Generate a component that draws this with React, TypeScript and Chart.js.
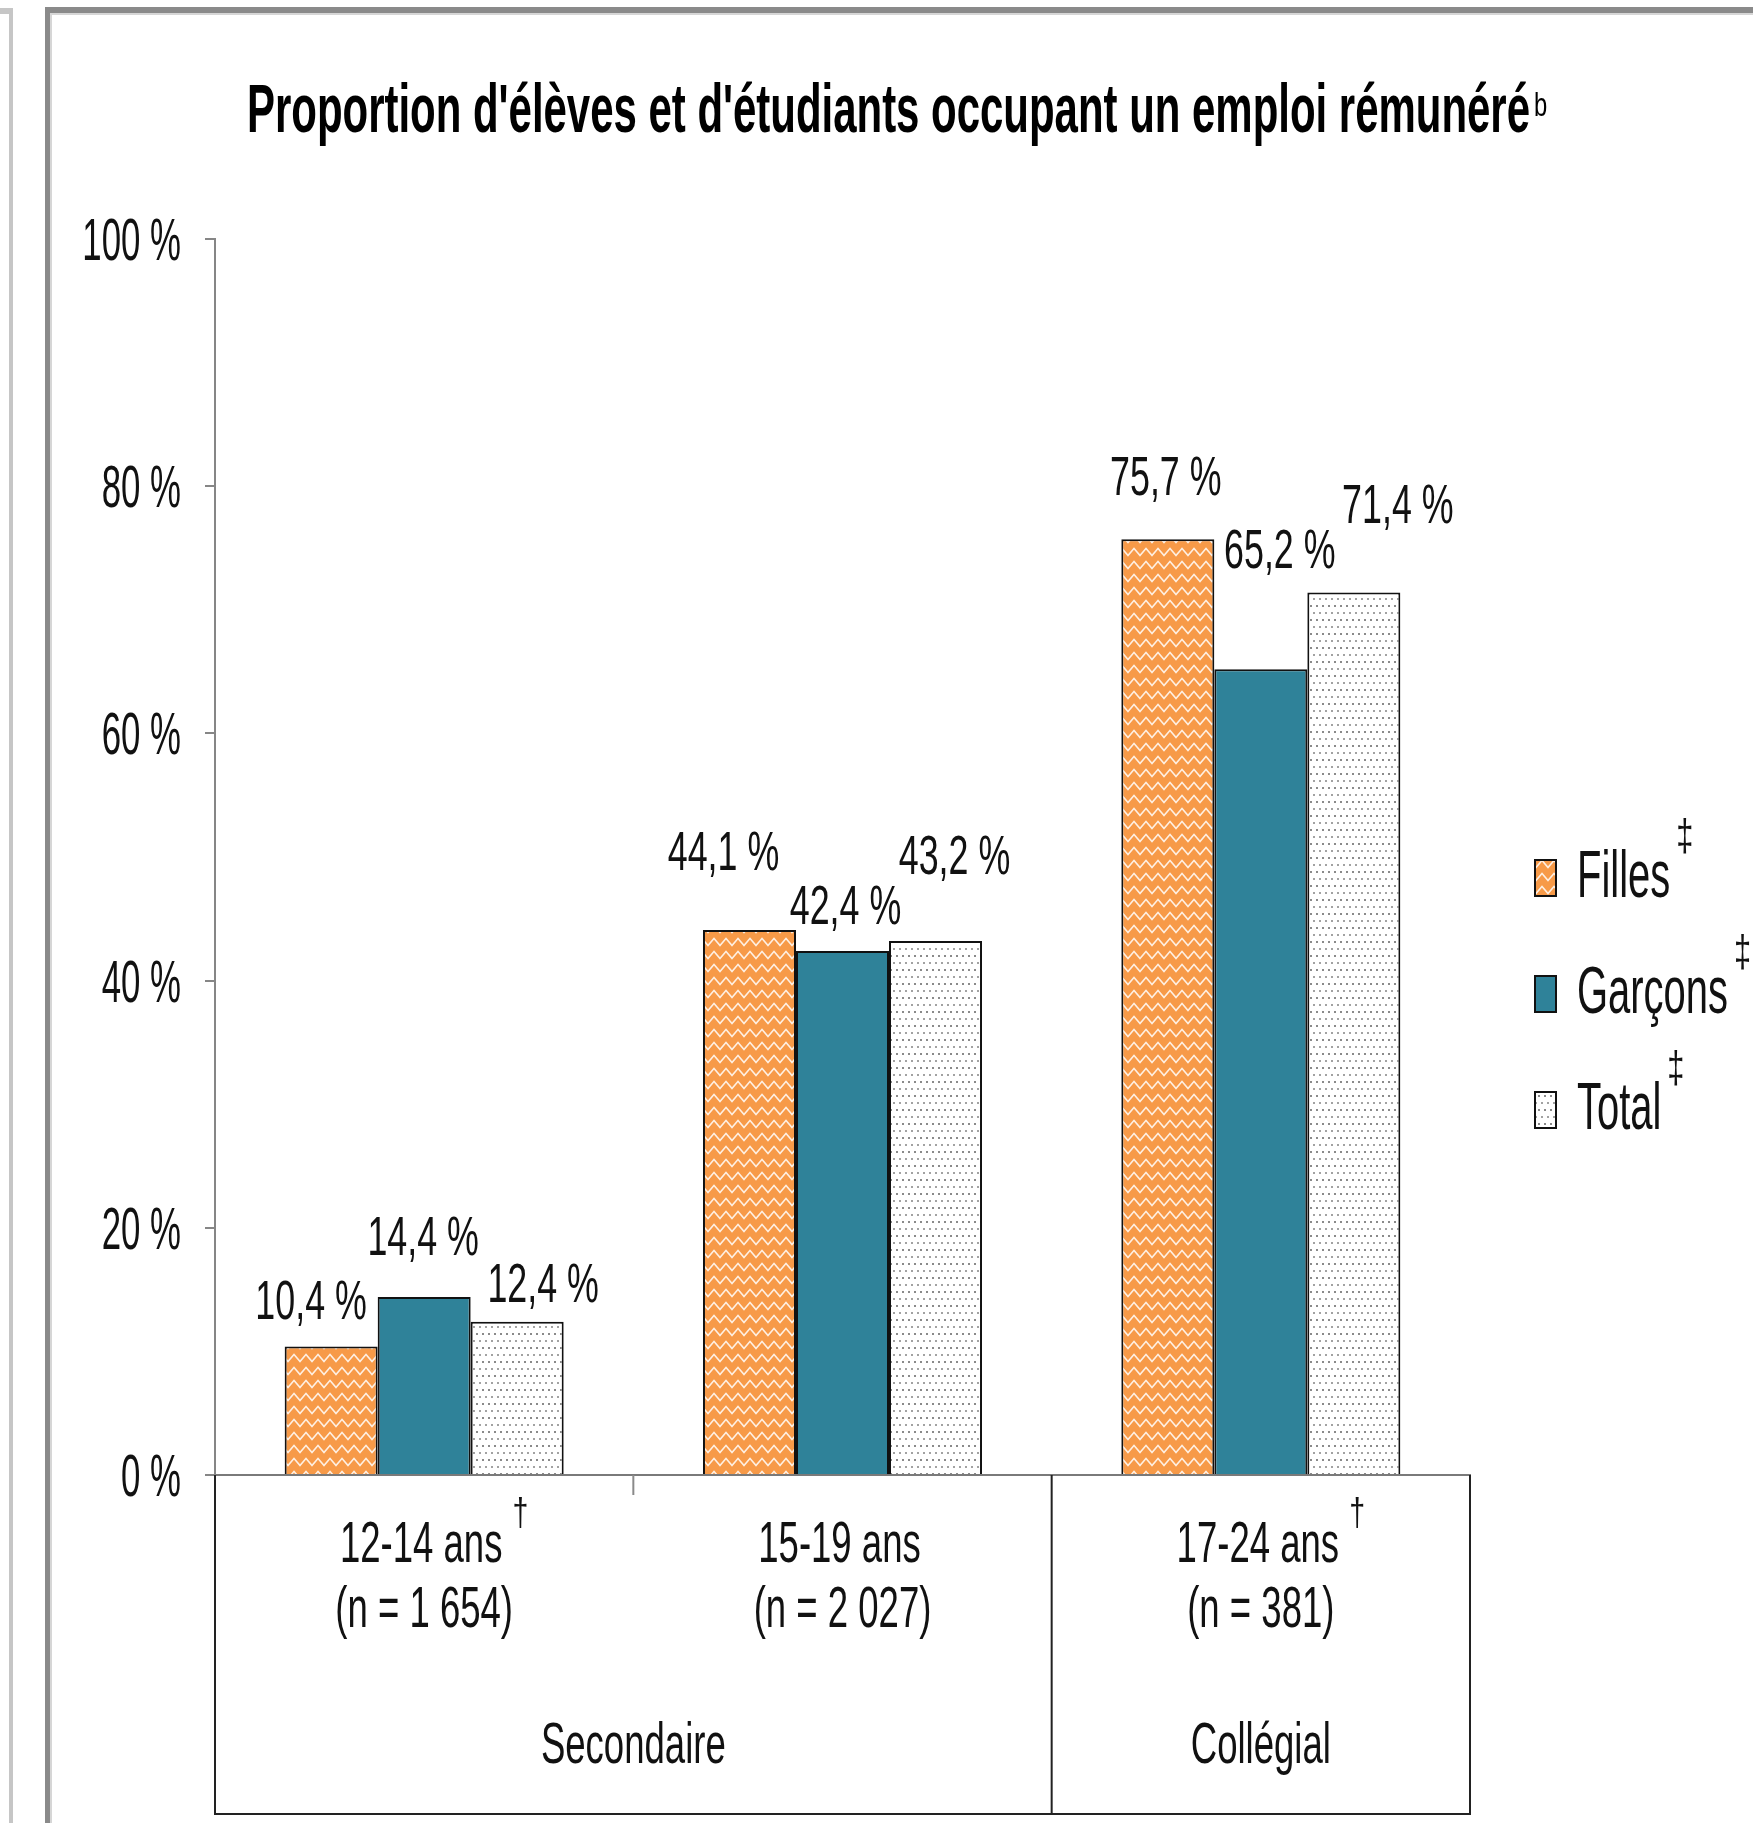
import React, { useEffect, useRef } from 'react';
import { Chart, registerables } from 'chart.js';

Chart.register(...registerables);

const W = 1753;
const H = 1823;
const FONT = '"Liberation Sans", Arial, "DejaVu Sans", sans-serif';

// ---- data ----
const categories = ['12-14 ans', '15-19 ans', '17-24 ans'];
const categoryMarks = ['†', '', '†'];
const sampleSizes = ['(n = 1 654)', '(n = 2 027)', '(n = 381)'];
const groupLabels = ['Secondaire', 'Collégial'];
const groupSpans = [2, 1];
const seriesNames = ['Filles', 'Garçons', 'Total'];
const seriesMarks = ['‡', '‡', '‡'];
const filles = [10.4, 44.1, 75.7];
const garcons = [14.4, 42.4, 65.2];
const total = [12.4, 43.2, 71.4];
const yTickValues = [0, 20, 40, 60, 80, 100];
const titleText = "Proportion d'élèves et d'étudiants occupant un emploi rémunéré";
const titleNote = 'b';

// ---- label placement (style): horizontal shift from bar centre, lift of baseline above bar top ----
const labelDx = [
  [-20, -26, -2],
  [-1, 3, 19],
  [26, 19, 44],
];
const labelLift = [
  [27, 60, 44],
  [42, 27, 101],
  [20, 67, 69],
];

function makeZigzag(): CanvasPattern | string {
  const c = document.createElement('canvas');
  c.width = 12;
  c.height = 13;
  const g = c.getContext('2d');
  if (!g) return '#F79646';
  g.fillStyle = '#F79A48';
  g.fillRect(0, 0, 12, 13);
  g.strokeStyle = 'rgba(255,255,255,0.85)';
  g.lineWidth = 1.5;
  g.beginPath();
  g.moveTo(-6, 2.5);
  g.lineTo(0, 9.5);
  g.lineTo(6, 2.5);
  g.lineTo(12, 9.5);
  g.lineTo(18, 2.5);
  g.stroke();
  return g.createPattern(c, 'repeat') || '#F79646';
}

function makeDots(): CanvasPattern | string {
  const c = document.createElement('canvas');
  c.width = 12;
  c.height = 14;
  const g = c.getContext('2d');
  if (!g) return '#fff';
  g.fillStyle = '#ffffff';
  g.fillRect(0, 0, 12, 14);
  g.fillStyle = '#8a8a8a';
  g.fillRect(2, 3, 2, 2);
  g.fillRect(8, 3, 2, 2);
  g.fillStyle = '#a2a2a2';
  g.fillRect(5, 10, 2, 2);
  g.fillRect(11, 10, 1, 2);
  g.fillRect(0, 10, 1, 2);
  return g.createPattern(c, 'repeat') || '#fff';
}

function txt(
  ctx: CanvasRenderingContext2D,
  s: string,
  x: number,
  y: number,
  size: number,
  align: CanvasTextAlign,
  sx: number,
  bold = false,
  color = '#111'
): number {
  ctx.save();
  ctx.font = `${bold ? 'bold ' : ''}${size}px ${FONT}`;
  ctx.fillStyle = color;
  ctx.textBaseline = 'alphabetic';
  ctx.textAlign = align;
  ctx.translate(x, y);
  ctx.scale(sx, 1);
  ctx.fillText(s, 0, 0);
  const w = ctx.measureText(s).width * sx;
  ctx.restore();
  return w;
}

function fmt(v: number): string {
  return v.toFixed(1).replace('.', ',') + ' %';
}

export default function App() {
  const ref = useRef<HTMLCanvasElement | null>(null);

  useEffect(() => {
    document.body.style.margin = '0';
    const canvas = ref.current;
    if (!canvas) return;
    const fills = [makeZigzag(), '#2F8299', makeDots()];
    const seriesValues = [filles, garcons, total];

    const framePlugin = {
      id: 'frameAndText',
      beforeDraw(chart: any) {
        const ctx: CanvasRenderingContext2D = chart.ctx;
        ctx.save();
        ctx.fillStyle = '#ffffff';
        ctx.fillRect(0, 0, W, H);
        // neighbouring panel edge
        ctx.fillStyle = '#c6c6c6';
        ctx.fillRect(0, 8, 13, 6);
        ctx.fillRect(9, 8, 4, H - 8);
        // main frame
        ctx.fillStyle = '#8a8a8a';
        ctx.fillRect(45, 7, W - 45, 6);
        ctx.fillRect(45, 7, 5, H - 7);
        ctx.fillStyle = '#d6d6d6';
        ctx.fillRect(50, 13, W - 50, 2);
        ctx.fillRect(50, 13, 2, H - 13);
        ctx.restore();
      },
      afterDraw(chart: any) {
        const ctx: CanvasRenderingContext2D = chart.ctx;
        const area = chart.chartArea;
        const xs = chart.scales.x;
        const ys = chart.scales.y;

        // title
        ctx.save();
        ctx.font = `bold 68px ${FONT}`;
        const natural = ctx.measureText(titleText).width;
        ctx.restore();
        const titleW = 1283;
        const titleX = 247;
        txt(ctx, titleText, titleX, 132, 68, 'left', titleW / natural, true, '#000');
        txt(ctx, titleNote, titleX + titleW + 4, 116, 34, 'left', 0.7, false, '#000');

        // y tick labels
        ys.ticks.forEach((t: any) => {
          const y = ys.getPixelForValue(t.value);
          txt(ctx, `${t.value} %`, area.left - 34, y + 21, 60, 'right', 0.58);
        });

        // data labels
        seriesValues.forEach((vals, i) => {
          const meta = chart.getDatasetMeta(i);
          meta.data.forEach((bar: any, j: number) => {
            txt(ctx, fmt(vals[j]), bar.x + labelDx[i][j], bar.y - labelLift[i][j], 56, 'center', 0.64);
          });
        });

        // category box
        const n = categories.length;
        const catW = (area.right - area.left) / n;
        const boxBottom = area.bottom + 339;
        ctx.save();
        ctx.strokeStyle = '#222';
        ctx.lineWidth = 2;
        ctx.beginPath();
        ctx.moveTo(area.left, area.bottom);
        ctx.lineTo(area.left, boxBottom);
        ctx.lineTo(area.right, boxBottom);
        ctx.lineTo(area.right, area.bottom);
        let acc = 0;
        groupSpans.forEach((span, gi) => {
          acc += span;
          if (gi < groupSpans.length - 1) {
            const bx = area.left + acc * catW;
            ctx.moveTo(bx, area.bottom);
            ctx.lineTo(bx, boxBottom);
          }
        });
        ctx.stroke();
        // inner category ticks
        ctx.strokeStyle = '#8a8a8a';
        ctx.beginPath();
        let start = 0;
        groupSpans.forEach((span) => {
          for (let k = 1; k < span; k++) {
            const bx = area.left + (start + k) * catW;
            ctx.moveTo(bx, area.bottom);
            ctx.lineTo(bx, area.bottom + 20);
          }
          start += span;
        });
        ctx.stroke();
        ctx.restore();

        // category labels
        categories.forEach((c, j) => {
          const cx = xs.getPixelForValue(j);
          const w = txt(ctx, c, cx - 3, area.bottom + 87, 58, 'center', 0.63);
          if (categoryMarks[j]) {
            txt(ctx, categoryMarks[j], cx - 3 + w / 2 + 18, area.bottom + 50, 38, 'center', 0.75);
          }
          txt(ctx, sampleSizes[j], cx, area.bottom + 152, 58, 'center', 0.63);
        });

        // group labels
        let s0 = 0;
        groupLabels.forEach((g, gi) => {
          const gx = area.left + (s0 + groupSpans[gi] / 2) * catW;
          txt(ctx, g, gx, area.bottom + 288, 58, 'center', 0.63);
          s0 += groupSpans[gi];
        });

        // legend
        const lx = 1535;
        const ly0 = 878;
        const lstep = 116;
        seriesNames.forEach((name, i) => {
          const cy = ly0 + i * lstep;
          ctx.save();
          ctx.fillStyle = fills[i] as any;
          ctx.fillRect(lx, cy - 18, 21, 36);
          ctx.strokeStyle = '#111';
          ctx.lineWidth = 2;
          ctx.strokeRect(lx, cy - 18, 21, 36);
          ctx.restore();
          const w = txt(ctx, name, lx + 42, cy + 19, 66, 'left', 0.605);
          txt(ctx, seriesMarks[i], lx + 42 + w + 6, cy - 28, 44, 'left', 0.7);
        });
      },
    };

    const chart = new Chart(canvas, {
      type: 'bar',
      data: {
        labels: categories,
        datasets: seriesValues.map((vals, i) => ({
          label: seriesNames[i],
          data: vals,
          backgroundColor: fills[i] as any,
          borderColor: '#111',
          borderWidth: 2,
          borderSkipped: 'start',
          categoryPercentage: 0.667,
          barPercentage: 1,
        })),
      },
      options: {
        responsive: false,
        animation: false,
        devicePixelRatio: 1,
        layout: { padding: { left: 205, right: 283, top: 239, bottom: 348 } },
        plugins: {
          legend: { display: false },
          title: { display: false },
          tooltip: { enabled: false },
        },
        scales: {
          x: {
            ticks: { display: false },
            grid: { display: false, drawTicks: false },
            border: { display: true, color: '#7a7a7a', width: 2 },
          },
          y: {
            min: 0,
            max: 100,
            afterBuildTicks: (scale: any) => {
              scale.ticks = yTickValues.map((v) => ({ value: v }));
            },
            ticks: { display: false, stepSize: 20 },
            grid: {
              display: true,
              drawOnChartArea: false,
              drawTicks: true,
              tickLength: 10,
              color: '#868686',
              lineWidth: 2,
            },
            border: { display: true, color: '#868686', width: 2 },
          },
        },
      },
      plugins: [framePlugin],
    } as any);

    return () => chart.destroy();
  }, []);

  return (
    <div style={{ position: 'absolute', left: 0, top: 0, width: W, height: H, overflow: 'hidden' }}>
      <canvas ref={ref} width={W} height={H} style={{ width: W, height: H, display: 'block' }} />
    </div>
  );
}
